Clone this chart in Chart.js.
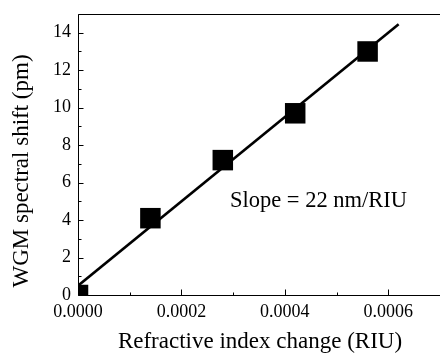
<!DOCTYPE html>
<html><head><meta charset="utf-8">
<script src="https://cdn.jsdelivr.net/npm/chart.js@4/dist/chart.umd.min.js"></script>
<style>html,body{margin:0;padding:0;background:#fff;overflow:hidden}#wrap{width:440px;height:355px;position:relative}canvas{display:block}</style>
</head><body><div id="wrap"><canvas id="c"></canvas></div>
<script>
const riuChange = [0, 0.00014, 0.00028, 0.00042, 0.00056];
const wgmShift = [0, 4.1, 7.2, 9.7, 13.0];
const fitX = [0, 0.00062];
const fitY = [0.5, 14.45];
const xTitle = 'Refractive index change (RIU)';
const yTitle = 'WGM spectral shift (pm)';
const noteText = 'Slope = 22 nm/RIU';

const FONT = '"Liberation Serif", "Times New Roman", serif';

const axesPlugin = {
  id: 'axesPlugin',
  afterDatasetsDraw(chart) {
    const {ctx, chartArea: a, scales: {x, y}} = chart;
    ctx.save();
    ctx.strokeStyle = '#000';
    ctx.lineWidth = 1;
    ctx.beginPath();
    const L = Math.round(a.left) + 0.5, T = Math.round(a.top) + 0.5, B = Math.round(a.bottom) + 0.5;
    ctx.moveTo(L, T); ctx.lineTo(a.right + 5, T);
    ctx.moveTo(L, T); ctx.lineTo(L, B);
    ctx.moveTo(L, B); ctx.lineTo(a.right + 5, B);
    for (let v = 0; v <= 15.0001; v += 1) {
      const p = Math.round(y.getPixelForValue(v)) + 0.5;
      const len = (Math.round(v) % 2 === 0) ? 5 : 3;
      ctx.moveTo(L, p); ctx.lineTo(L + len, p);
    }
    for (let i = 0; i <= 7; i++) {
      const v = i * 0.0001;
      const p = Math.round(x.getPixelForValue(v)) + 0.5;
      const len = (i % 2 === 0) ? 6 : 3;
      ctx.moveTo(p, B); ctx.lineTo(p, B - len);
    }
    ctx.stroke();
    ctx.fillStyle = '#000';
    ctx.font = '23px ' + FONT;
    ctx.textAlign = 'center';
    ctx.textBaseline = 'middle';
    ctx.fillText(xTitle, 260, 342);
    ctx.save();
    ctx.translate(22, 171);
    ctx.rotate(-Math.PI / 2);
    ctx.fillText(yTitle, 0, 0);
    ctx.restore();
    ctx.font = '22.5px ' + FONT;
    ctx.fillText(noteText, x.getPixelForValue(0.000465), y.getPixelForValue(5.0));
    ctx.restore();
  }
};

new Chart(document.getElementById('c'), {
  type: 'scatter',
  data: {
    datasets: [
      {
        type: 'line',
        data: fitX.map((v, i) => ({x: v, y: fitY[i]})),
        borderColor: '#000',
        borderWidth: 2.6,
        pointRadius: 0,
        fill: false,
        clip: 0
      },
      {
        data: riuChange.map((v, i) => ({x: v, y: wgmShift[i]})),
        pointStyle: 'rect',
        pointRadius: 14.5,
        pointHoverRadius: 14.5,
        backgroundColor: '#000',
        borderColor: '#000',
        borderWidth: 0,
        clip: 0
      }
    ]
  },
  options: {
    responsive: true,
    maintainAspectRatio: false,
    animation: false,
    events: [],
    layout: {autoPadding: false, padding: {top: 14, right: -2, left: 0, bottom: 0}},
    plugins: {legend: {display: false}, tooltip: {enabled: false}},
    scales: {
      x: {
        type: 'linear', min: 0, max: 0.0007,
        grid: {display: false, drawTicks: false},
        border: {display: false},
        ticks: {stepSize: 0.0002, includeBounds: false, padding: 6, color: '#000',
          maxRotation: 0, autoSkip: false,
          font: {family: FONT, size: 18},
          callback: v => Number(v).toFixed(4)},
        afterFit(s) { s.height = 60; s.paddingLeft = 0; s.paddingRight = -2; }
      },
      y: {
        type: 'linear', min: 0, max: 15,
        grid: {display: false, drawTicks: false},
        border: {display: false},
        ticks: {stepSize: 2, includeBounds: false, padding: 7, color: '#000',
          font: {family: FONT, size: 18}},
        afterFit(s) { s.width = 78; s.paddingTop = 0; s.paddingBottom = 0; }
      }
    }
  },
  plugins: [axesPlugin]
});
</script></body></html>
